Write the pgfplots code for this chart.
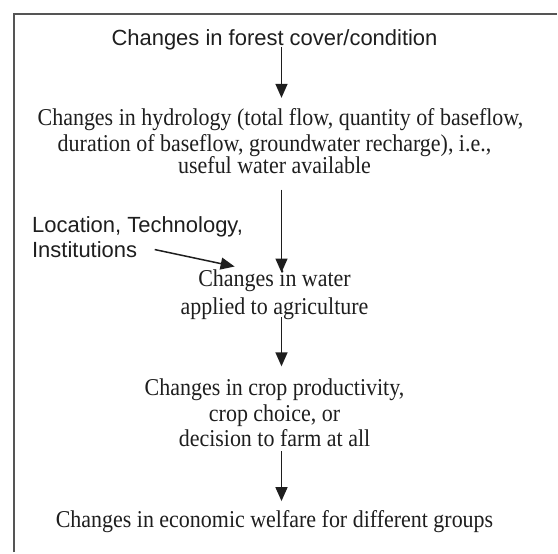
\documentclass[border=0pt]{standalone}
\usepackage{fontspec}
\setmainfont{Liberation Serif}
\setsansfont{Liberation Sans}
\usepackage{graphicx}
\usepackage{pgfplots}
\pgfplotsset{compat=1.18}
\usetikzlibrary{arrows.meta}
\definecolor{ink}{HTML}{1E1E1E}
\definecolor{boxline}{HTML}{555555}
\newcommand{\st}[1]{\scalebox{1}[1.1]{#1}}
\tikzset{
  serif/.style={text=ink, font=\fontsize{22bp}{26bp}\selectfont\rmfamily, anchor=base, inner sep=0pt},
  sans/.style={text=ink, font=\fontsize{22bp}{26bp}\selectfont\sffamily, anchor=base, inner sep=0pt},
  arr/.style={ink, line width=1.5bp, -{Triangle[width=12bp,length=14bp]}},
}
\begin{document}
\begin{tikzpicture}
\begin{axis}[
  width=558bp, height=553bp, scale only axis,
  xmin=0, xmax=558, ymin=0, ymax=553, y dir=reverse,
  axis lines=none, ticks=none, clip=false,
]
\path (axis cs:0,0) rectangle (axis cs:558,553);
% frame
\addplot[boxline, line width=2bp] coordinates {(14,553) (14,14) (558,14)};
% arrows
\addplot[arr] coordinates {(282,47) (282,98)};
\addplot[arr] coordinates {(282,190) (282,273)};
\addplot[arr] coordinates {(155,250) (235,267)};
\addplot[arr] coordinates {(282,318) (282,367)};
\addplot[arr] coordinates {(282,452) (282,502)};
% texts
\node[sans] at (axis cs:275,46) {Changes in forest cover/condition};
\node[serif] at (axis cs:281,126) {\st{Changes in hydrology (total flow, quantity of baseflow,}};
\node[serif] at (axis cs:275,152) {\st{duration of baseflow, groundwater recharge), i.e.,}};
\node[serif] at (axis cs:275,174) {\st{useful water available}};
\node[sans, anchor=base west] at (axis cs:32,233) {Location, Technology,};
\node[sans, anchor=base west] at (axis cs:32,258) {Institutions};
\node[serif] at (axis cs:275,287) {\st{Changes in water}};
\node[serif] at (axis cs:275,315) {\st{applied to agriculture}};
\node[serif] at (axis cs:275,396) {\st{Changes in crop productivity,}};
\node[serif] at (axis cs:275,422) {\st{crop choice, or}};
\node[serif] at (axis cs:275,447) {\st{decision to farm at all}};
\node[serif] at (axis cs:275,528) {\st{Changes in economic welfare for different groups}};
\end{axis}
\end{tikzpicture}
\end{document}
